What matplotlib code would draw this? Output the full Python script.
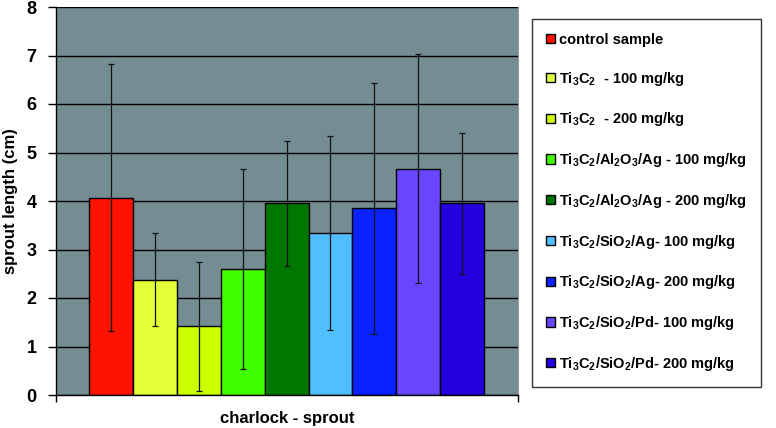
import numpy as np
import matplotlib
matplotlib.use('Agg')
import matplotlib.pyplot as plt

plt.rcParams['font.family'] = ['Liberation Sans', 'DejaVu Sans']
plt.rcParams['font.weight'] = 'bold'
plt.rcParams['mathtext.default'] = 'regular'

# datos
etiquetas = ['control sample',
             r'Ti$_3$C$_2$  - 100 mg/kg',
             r'Ti$_3$C$_2$  - 200 mg/kg',
             r'Ti$_3$C$_2$/Al$_2$O$_3$/Ag - 100 mg/kg',
             r'Ti$_3$C$_2$/Al$_2$O$_3$/Ag - 200 mg/kg',
             r'Ti$_3$C$_2$/SiO$_2$/Ag- 100 mg/kg',
             r'Ti$_3$C$_2$/SiO$_2$/Ag- 200 mg/kg',
             r'Ti$_3$C$_2$/SiO$_2$/Pd- 100 mg/kg',
             r'Ti$_3$C$_2$/SiO$_2$/Pd- 200 mg/kg']
valores = [4.07, 2.38, 1.42, 2.60, 3.95, 3.35, 3.85, 4.67, 3.95]
errores = [2.75, 0.95, 1.33, 2.06, 1.29, 2.00, 2.59, 2.37, 1.45]
colores = ['#FF1100', '#E2FF3A', '#CCFF00', '#3FFF00', '#007700',
           '#50BFFF', '#0A22FF', '#6A45FF', '#2200E0']
categoria = 'charlock - sprout'

fig = plt.figure(figsize=(7.76, 4.28), dpi=100)
ax = fig.add_axes([56/776, 33/428, 462/776, 388/428])
ax.set_facecolor('#738D93')

x = np.arange(len(valores))
barras = []
for i in range(len(valores)):
    b = ax.bar(x[i], valores[i], width=1.0, color=colores[i], edgecolor='black',
               linewidth=1.0, label=etiquetas[i], zorder=2)
    barras.append(b)
ax.errorbar(x, valores, yerr=errores, fmt='none', ecolor='#111111',
            elinewidth=0.9, capsize=2.5, capthick=0.9, zorder=3)

ax.set_ylim(0, 8)
ax.set_xlim(-1.25, 9.27)
ax.set_yticks(range(9))
ax.yaxis.grid(True, color='black', linewidth=1.0, zorder=1)
ax.set_axisbelow(True)
ax.tick_params(axis='y', labelsize=13, length=6, width=1, pad=8)
ax.set_xticks([-1.25, 9.27])
ax.set_xticklabels(['', ''])
ax.tick_params(axis='x', length=5, width=1)
ax.set_xlabel(categoria, fontsize=12, fontweight='bold', labelpad=3)
ax.set_ylabel('sprout length (cm)', fontsize=12, fontweight='bold', labelpad=6)
ax.spines['top'].set_visible(False)
ax.spines['right'].set_color('#9a9a9a')
ax.spines['left'].set_linewidth(1.0)
ax.spines['bottom'].set_linewidth(1.0)

leg = fig.legend(handles=barras, labels=etiquetas, loc='upper left',
                 bbox_to_anchor=(532/776, 1 - 19/428), fontsize=10.5,
                 frameon=True, fancybox=False, edgecolor='black',
                 handlelength=0.6, handleheight=0.6, handletextpad=0.3,
                 labelspacing=1.56, borderpad=0.95, borderaxespad=0)
leg.get_frame().set_linewidth(1.0)

plt.savefig('out.png', dpi=100)
